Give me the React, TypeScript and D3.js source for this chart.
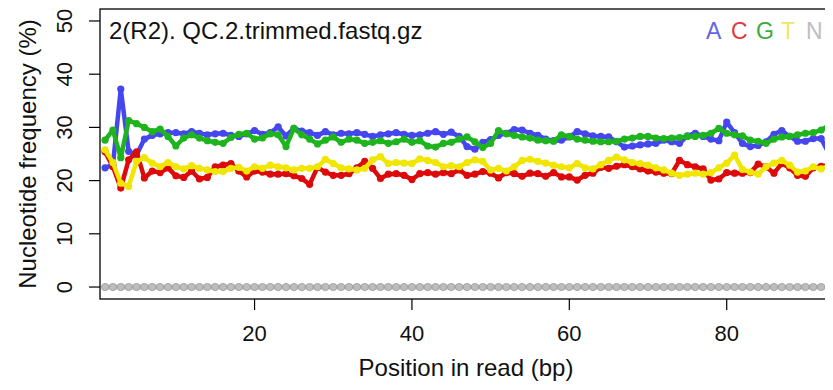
import React from "react";
import * as d3 from "d3";

const positions: number[] = d3.range(1, 94);

const seriesA: number[] = [
  22.4, 23.0, 37.2, 25.5, 24.8, 27.8, 28.5, 28.8, 29.0, 29.0, 28.8, 29.2, 28.9, 28.6, 28.8,
  28.9, 28.5, 28.3, 28.8, 29.4, 28.7, 29.0, 30.1, 28.4, 29.8, 29.3, 29.0, 28.5, 29.2, 28.6,
  28.9, 28.8, 29.0, 28.7, 28.3, 28.6, 28.8, 29.0, 28.7, 28.5, 28.6, 28.9, 29.2, 28.7, 29.1,
  28.3, 26.4, 25.9, 27.2, 27.7, 28.5, 28.9, 29.6, 29.5, 28.9, 28.5, 27.8, 27.5, 27.6, 28.2,
  29.2, 28.8, 28.4, 28.3, 28.2, 27.3, 26.3, 26.5, 26.7, 26.9, 27.0, 27.6, 27.3, 27.0, 28.4,
  28.9, 28.3, 27.8, 27.5, 31.0, 29.0, 27.0, 26.4, 26.6, 27.3, 28.7, 29.4, 28.3, 27.4, 27.4,
  27.9, 27.9, 25.0,
];

const seriesC: number[] = [
  25.4, 22.6, 18.6, 23.9, 25.4, 20.5, 21.8, 21.5, 22.4, 20.9, 20.6, 21.8, 20.3, 20.6, 22.6,
  22.9, 23.2, 21.8, 20.7, 21.8, 21.6, 21.2, 21.2, 21.3, 20.9, 20.4, 19.3, 22.5, 21.6, 21.0,
  21.0, 21.3, 22.4, 23.6, 22.3, 20.4, 21.2, 21.3, 21.0, 20.2, 21.3, 21.5, 21.2, 21.5, 21.3,
  22.0, 21.0, 21.2, 21.7, 21.4, 20.5, 21.5, 21.3, 20.8, 21.4, 21.3, 20.8, 21.5, 20.7, 20.7,
  20.1, 21.0, 21.4, 22.5, 22.3, 22.7, 23.0, 22.6, 22.2, 21.8, 21.6, 21.4, 21.3, 23.8, 23.0,
  22.6, 22.2, 20.1, 20.3, 21.5, 21.4, 21.4, 21.5, 23.1, 22.6, 21.4, 23.2, 22.4, 21.0, 20.8,
  22.4, 22.7, 22.9,
];

const seriesG: number[] = [
  27.6, 29.5, 24.3, 31.3, 30.7, 30.0, 29.2, 29.7, 28.3, 26.5, 28.0, 28.6, 28.0, 27.5, 27.2,
  27.0, 28.1, 28.7, 28.9, 27.8, 28.0, 28.8, 28.6, 26.4, 29.8, 28.6, 27.8, 26.9, 27.6, 28.2,
  27.2, 27.8, 27.6, 27.0, 27.2, 27.5, 27.0, 27.3, 27.8, 27.2, 27.5, 26.5, 26.3, 27.0, 27.2,
  27.8, 28.2, 27.3, 26.2, 27.0, 29.4, 28.8, 28.5, 28.2, 28.0, 27.6, 27.5, 27.4, 28.6, 28.3,
  27.8, 27.6, 27.4, 27.3, 27.3, 27.4, 27.8, 28.0, 28.3, 28.3, 28.0, 27.9, 28.0, 28.1, 28.3,
  28.3, 28.5, 28.9, 29.8, 28.9, 28.6, 28.4, 27.6, 27.4, 27.0, 27.8, 28.2, 28.3, 28.6, 28.9,
  29.0, 29.5, 30.4,
];

const seriesT: number[] = [
  25.8, 23.4, 19.5, 18.9, 23.6, 24.3, 23.3, 22.6, 23.4, 22.6, 22.2, 22.8, 22.3, 22.0, 21.7,
  21.7, 22.3, 22.5, 21.8, 22.6, 22.3, 22.9, 22.6, 22.4, 22.0, 22.3, 22.3, 22.6, 24.0, 23.2,
  22.4, 22.2, 22.0, 22.3, 23.9, 24.5, 23.2, 23.4, 23.3, 23.2, 24.1, 23.8, 23.4, 22.6, 22.8,
  22.6, 23.4, 23.9, 23.6, 22.0, 22.3, 21.8, 22.6, 23.8, 24.0, 23.6, 23.3, 22.9, 22.6, 22.4,
  23.2, 22.4, 22.2, 23.0, 23.8, 24.4, 23.9, 23.4, 23.2, 22.9, 22.4, 22.0, 21.4, 21.0, 21.2,
  21.4, 21.2, 21.5, 22.4, 23.3, 24.8, 22.1, 21.6, 21.2, 22.6, 23.3, 23.8, 22.9, 21.6, 21.8,
  22.6, 22.2, 22.8,
];

const seriesN: number[] = positions.map(() => 0);

const seriesNames: string[] = ["A", "C", "G", "T", "N"];
const lineColors: string[] = ["#4646f0", "#dc0a0a", "#1eb41e", "#f0e600", "#b4b4b4"];
const legendColors: string[] = ["#6464e6", "#e03c3c", "#3caa3c", "#f0e664", "#bebebe"];

const yTicks: number[] = [0, 10, 20, 30, 40, 50];
const xTicks: number[] = [20, 40, 60, 80];

const titleText = "2(R2). QC.2.trimmed.fastq.gz";
const xLabel = "Position in read (bp)";
const yLabel = "Nucleotide frequency (%)";

export default function App() {
  const W = 833;
  const H = 390;
  const left = 100;
  const right = 832;
  const top = 9;
  const bottom = 299;
  const font = "'Liberation Sans', Arial, sans-serif";

  const x = d3.scaleLinear().domain([0.36, 93.38]).range([left, right]);
  const y = d3.scaleLinear().domain([-2.25, 52.25]).range([bottom, top]);

  const all = [seriesA, seriesC, seriesG, seriesT, seriesN];
  const line = d3
    .line<number>()
    .x((_, i) => x(positions[i]))
    .y((d) => y(d));

  const legendStart = 706;
  const legendStep = 25;

  return (
    <div style={{ margin: -8 }}>
      <svg width={W} height={H} style={{ display: "block", background: "#fff" }}>
        <defs>
          <clipPath id="plotclip">
            <rect x={left} y={top} width={right - left} height={bottom - top} />
          </clipPath>
        </defs>
        <g clipPath="url(#plotclip)">
          {all.map((s, k) => {
            const isN = k === 4;
            return (
              <g key={seriesNames[k]}>
                <path
                  d={line(s) || ""}
                  fill="none"
                  stroke={lineColors[k]}
                  strokeWidth={isN ? 4.5 : 4.5}
                  strokeLinejoin="round"
                />
                {s.map((v, i) => (
                  <circle
                    key={i}
                    cx={x(positions[i])}
                    cy={y(v)}
                    r={isN ? 3.6 : 3.6}
                    fill={isN ? "#bdbdbd" : lineColors[k]}
                    stroke={isN ? "#a5a5a5" : "none"}
                    strokeWidth={isN ? 1 : 0}
                  />
                ))}
              </g>
            );
          })}
        </g>
        <rect x={left} y={top} width={right - left} height={bottom - top} fill="none" stroke="#000" strokeWidth={1.3} />

        {/* y axis */}
        {yTicks.map((t) => (
          <g key={"y" + t}>
            <line x1={left - 11} x2={left} y1={y(t)} y2={y(t)} stroke="#000" strokeWidth={1.2} />
            <text
              transform={`translate(${left - 36},${y(t)}) rotate(-90)`}
              textAnchor="middle"
              dy="0.35em"
              fontFamily={font}
              fontSize={22}
              fill="#111"
            >
              {t}
            </text>
          </g>
        ))}
        <text
          transform={`translate(28,${(top + bottom) / 2}) rotate(-90)`}
          textAnchor="middle"
          dy="0.35em"
          fontFamily={font}
          fontSize={24}
          fill="#111"
        >
          {yLabel}
        </text>

        {/* x axis */}
        {xTicks.map((t) => (
          <g key={"x" + t}>
            <line x1={x(t)} x2={x(t)} y1={bottom} y2={bottom + 11} stroke="#000" strokeWidth={1.2} />
            <text x={x(t)} y={341} textAnchor="middle" fontFamily={font} fontSize={22} fill="#111">
              {t}
            </text>
          </g>
        ))}
        <text x={(left + right) / 2} y={376} textAnchor="middle" fontFamily={font} fontSize={24} fill="#111">
          {xLabel}
        </text>

        {/* title */}
        <text x={109} y={39} fontFamily={font} fontSize={24} fill="#111">
          {titleText}
        </text>

        {/* legend */}
        {seriesNames.map((n, k) => (
          <text
            key={"l" + n}
            x={legendStart + k * legendStep}
            y={39}
            fontFamily={font}
            fontSize={23}
            fill={legendColors[k]}
          >
            {n}
          </text>
        ))}
      </svg>
    </div>
  );
}
